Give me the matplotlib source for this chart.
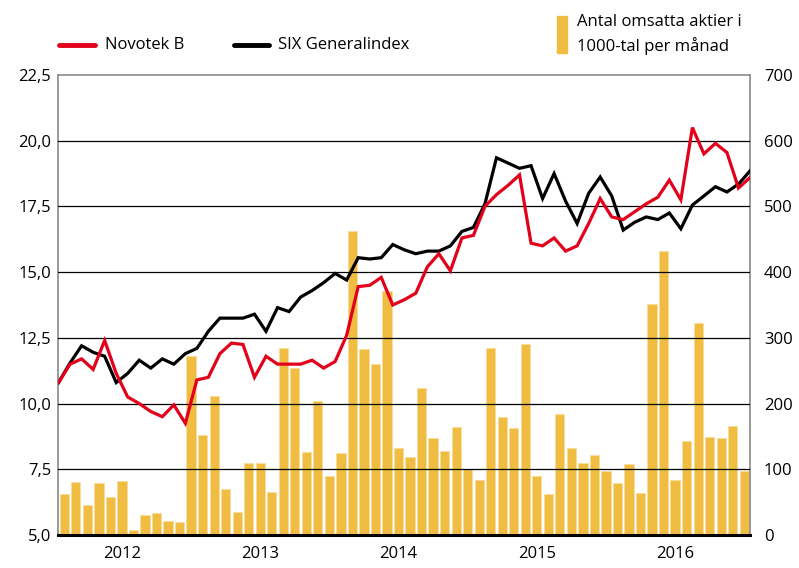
import numpy as np
import matplotlib
matplotlib.use("Agg")
import matplotlib.pyplot as plt
from matplotlib.lines import Line2D
from matplotlib.patches import Rectangle

plt.rcParams['font.family'] = ['Open Sans', 'DejaVu Sans']

# aktiekurs Novotek B (kr), en punkt per månadsskifte jan 2012 - dec 2016
novotek = [10.8, 11.5, 11.7, 11.3, 12.4, 11.15, 10.25, 10.0, 9.7, 9.5,
           9.95, 9.25, 10.9, 11.0, 11.9, 12.3, 12.25, 11.0, 11.8, 11.5,
           11.5, 11.5, 11.65, 11.35, 11.6, 12.6, 14.45, 14.5, 14.8, 13.75,
           13.95, 14.2, 15.2, 15.7, 15.05, 16.3, 16.4, 17.5, 17.95, 18.3,
           18.7, 16.1, 16.0, 16.3, 15.8, 16.0, 16.85, 17.8, 17.1, 17.0,
           17.3, 17.6, 17.85, 18.5, 17.75, 20.5, 19.5, 19.9, 19.55, 18.2,
           18.6]

# SIX Generalindex, omräknat till samma skala
six = [10.8, 11.55, 12.2, 11.95, 11.8, 10.8, 11.15, 11.65, 11.35, 11.7,
       11.5, 11.9, 12.1, 12.75, 13.25, 13.25, 13.25, 13.4, 12.75, 13.65,
       13.5, 14.05, 14.3, 14.6, 14.95, 14.7, 15.55, 15.5, 15.55, 16.05,
       15.85, 15.7, 15.8, 15.8, 16.0, 16.55, 16.7, 17.6, 19.35, 19.15,
       18.95, 19.05, 17.8, 18.75, 17.7, 16.85, 18.0, 18.62, 17.9, 16.6,
       16.9, 17.1, 17.0, 17.25, 16.65, 17.55, 17.9, 18.25, 18.05, 18.35,
       18.85]

# antal omsatta aktier i 1000-tal per månad
volym = [63, 80, 46, 79, 58, 82, 8, 31, 33, 21,
         20, 273, 152, 212, 70, 35, 110, 110, 66, 285,
         254, 126, 204, 90, 125, 463, 283, 260, 372, 133,
         118, 223, 148, 128, 164, 100, 83, 284, 180, 163,
         291, 90, 63, 184, 132, 110, 122, 97, 79, 108,
         64, 351, 432, 84, 143, 323, 149, 147, 166, 98]

years = ['2012', '2013', '2014', '2015', '2016']

red = '#e2001a'
gold = '#f0bc42'
fs = 12

fig = plt.figure(figsize=(7.99, 5.68), dpi=100)
ax = fig.add_axes([58/799, 1 - 535/568, (750 - 58)/799, (535 - 75)/568])
ax2 = ax.twinx()

x_bar = np.arange(len(volym))
ax.bar(x_bar, volym, width=0.8, color=gold, edgecolor='#f7dc9a', linewidth=0.6, zorder=2)
ax.set_ylim(0, 700)
ax.set_xlim(-0.55, 59.5)
for v in range(100, 700, 100):
    ax.axhline(v, color='black', lw=0.9, zorder=3)

ax.set_yticks(range(0, 701, 100))
ax.set_xticks([5 + 12 * k for k in range(len(years))])
ax.set_xticklabels(years)
ax.tick_params(axis='x', length=0, labelsize=fs, pad=8)

for s in ['top', 'left', 'right']:
    ax.spines[s].set_color('#8a8a8a')
    ax.spines[s].set_linewidth(1.2)
ax.spines['bottom'].set_color('black')
ax.spines['bottom'].set_linewidth(2.2)
ax.spines['bottom'].set_zorder(5)

x_line = np.arange(len(novotek)) - 0.5
ax2.plot(x_line, six, color='black', lw=2.3, zorder=4, solid_joinstyle='miter')
ax2.plot(x_line, novotek, color=red, lw=2.3, zorder=5, solid_joinstyle='miter')
ax2.set_ylim(5, 22.5)
ax2.set_yticks(np.arange(5, 22.6, 2.5))
ax2.set_yticklabels([f'{v:.1f}'.replace('.', ',') for v in np.arange(5, 22.6, 2.5)])
for s in ax2.spines.values():
    s.set_visible(False)

# volymen till höger, kursen till vänster
ax.yaxis.tick_right()
ax2.yaxis.tick_left()
ax.tick_params(axis='y', length=0, labelsize=fs, pad=10)
ax2.tick_params(axis='y', length=0, labelsize=fs, pad=5)

# förklaring överst
fig.add_artist(Line2D([59/799, 95/799], [1 - 45/568] * 2, color=red, lw=3.5, solid_capstyle='round'))
fig.text(105/799, 1 - 45/568, 'Novotek B', fontsize=fs, va='center')
fig.add_artist(Line2D([234/799, 269/799], [1 - 45/568] * 2, color='black', lw=3.5, solid_capstyle='round'))
fig.text(278/799, 1 - 45/568, 'SIX Generalindex', fontsize=fs, va='center')
fig.add_artist(Rectangle((557/799, 1 - 53/568), 10/799, 37/568, color=gold, transform=fig.transFigure))
fig.text(577/799, 1 - 22/568, 'Antal omsatta aktier i', fontsize=fs, va='center')
fig.text(577/799, 1 - 46/568, '1000-tal per månad', fontsize=fs, va='center')

fig.savefig('out.png', dpi=100)
